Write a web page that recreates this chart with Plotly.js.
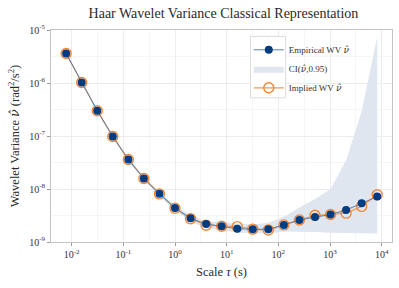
<!DOCTYPE html>
<html><head><meta charset="utf-8">
<script src="https://cdn.plot.ly/plotly-3.0.1.min.js"></script>
<style>html,body{margin:0;padding:0;background:#fff}#chart{width:399px;height:288px}</style>
</head><body><div id="chart"></div>
<script>
// scales tau = 2^j / 256, j = 1..21
const scales = [0.0078125,0.015625,0.03125,0.0625,0.125,0.25,0.5,1,2,4,8,16,32,64,128,256,512,1024,2048,4096,8192];
const empirical = [3.6e-6,1.02e-6,3.0e-7,9.8e-8,3.6e-8,1.58e-8,8.1e-9,4.4e-9,2.8e-9,2.19e-9,1.98e-9,1.78e-9,1.74e-9,1.74e-9,2.1e-9,2.6e-9,2.95e-9,3.3e-9,4.0e-9,5.4e-9,7.2e-9];
const implied   = [3.6e-6,1.02e-6,3.0e-7,9.8e-8,3.6e-8,1.58e-8,8.1e-9,4.35e-9,2.75e-9,2.07e-9,1.98e-9,1.95e-9,1.75e-9,1.68e-9,2.1e-9,2.6e-9,3.2e-9,3.3e-9,3.5e-9,4.7e-9,7.8e-9];
const ciLower   = [3.45e-6,9.7e-7,2.85e-7,9.2e-8,3.35e-8,1.46e-8,7.4e-9,3.95e-9,2.45e-9,1.8e-9,1.68e-9,1.5e-9,1.46e-9,1.44e-9,1.58e-9,1.57e-9,1.54e-9,1.5e-9,1.47e-9,1.45e-9,1.44e-9];
const ciUpper   = [3.75e-6,1.07e-6,3.16e-7,1.04e-7,3.85e-8,1.71e-8,8.9e-9,4.9e-9,3.2e-9,2.45e-9,2.35e-9,2.2e-9,2.15e-9,2.3e-9,3.0e-9,4.5e-9,6.5e-9,1.0e-8,3.5e-8,2.9e-7,7.4e-6];
const xTickVals = [0.01,0.1,1,10,100,1000,10000];
const xTickText = ["10<sup>-2</sup>","10<sup>-1</sup>","10<sup>0</sup>","10<sup>1</sup>","10<sup>2</sup>","10<sup>3</sup>","10<sup>4</sup>"];
const yTickVals = [1e-9,1e-8,1e-7,1e-6,1e-5];
const yTickText = ["10<sup>-9</sup>","10<sup>-8</sup>","10<sup>-7</sup>","10<sup>-6</sup>","10<sup>-5</sup>"];
const xMinor = [0.00316,0.0316,0.316,3.16,31.6,316,3162];
const yMinor = [3.16e-9,3.16e-8,3.16e-7,3.16e-6];

const serif = "Liberation Serif, DejaVu Serif, serif";
const nuHat = '<span style="font-family:DejaVu Serif"><i>ν̂</i></span>';
const traces = [
  {x: scales, y: ciLower, mode:'lines', line:{width:0,color:'rgba(0,0,0,0)'}, showlegend:false, hoverinfo:'skip'},
  {x: scales, y: ciUpper, mode:'lines', fill:'tonexty', fillcolor:'#dfe6f0', line:{width:0,color:'rgba(0,0,0,0)'}, name:'CI(' + nuHat + ',0.95)', legendrank:2},
  {x: scales, y: implied, mode:'lines+markers', name:'Implied WV ' + nuHat, legendrank:3,
   line:{color:'#f39a4f', width:1.2}, marker:{symbol:'circle-open', size:10, color:'#f0883a', line:{width:1.4}}},
  {x: scales, y: empirical, mode:'lines+markers', name:'Empirical WV ' + nuHat, legendrank:1,
   line:{color:'#5b7fae', width:1}, marker:{symbol:'circle', size:8, color:'#003c7e'}}
];
const axisCommon = {type:'log', showline:true, mirror:true, linecolor:'#c4c4c4', linewidth:1,
  ticks:'outside', ticklen:3, tickcolor:'#999', gridcolor:'#ececec', zeroline:false,
  tickfont:{family:serif, size:10, color:'#333'}};
const layout = {
  width:399, height:288, margin:{l:51, r:7, t:30, b:46},
  paper_bgcolor:'#fff', plot_bgcolor:'#fff',
  title:{text:'Haar Wavelet Variance Classical Representation', x:0.56, xanchor:'center', y:0.955, yanchor:'middle',
    font:{family:serif, size:14, color:'#2a2a2a', weight:300}},
  xaxis: Object.assign({}, axisCommon, {range:[-2.4,4.2], tickmode:'array', tickvals:xTickVals, ticktext:xTickText,
    minor:{tickvals:xMinor, showgrid:true, gridcolor:'#f5f5f5', ticks:''},
    title:{text:'Scale <i>τ</i> (s)', font:{family:serif, size:12.5, color:'#2a2a2a'}, standoff:8}}),
  yaxis: Object.assign({}, axisCommon, {range:[-9,-5], tickmode:'array', tickvals:yTickVals, ticktext:yTickText,
    minor:{tickvals:yMinor, showgrid:true, gridcolor:'#f5f5f5', ticks:''},
    title:{text:'Wavelet Variance ' + nuHat + ' (rad<sup>2</sup>/s<sup>2</sup>)', font:{family:serif, size:12.5, color:'#2a2a2a'}, standoff:6}}),
  legend:{x:0.58, y:0.975, xanchor:'left', yanchor:'top', bgcolor:'rgba(0,0,0,0)', borderwidth:0, traceorder:'normal',
    font:{family:serif, size:9, color:'#333'}},
  shapes:[{type:'rect', xref:'paper', yref:'paper', x0:0.585, x1:0.688, y0:0.68, y1:0.97,
    fillcolor:'#fff', line:{color:'#dcdcdc', width:1}, layer:'above'}],
  showlegend:true
};
Plotly.newPlot('chart', traces, layout, {displayModeBar:false, staticPlot:true});
</script></body></html>
